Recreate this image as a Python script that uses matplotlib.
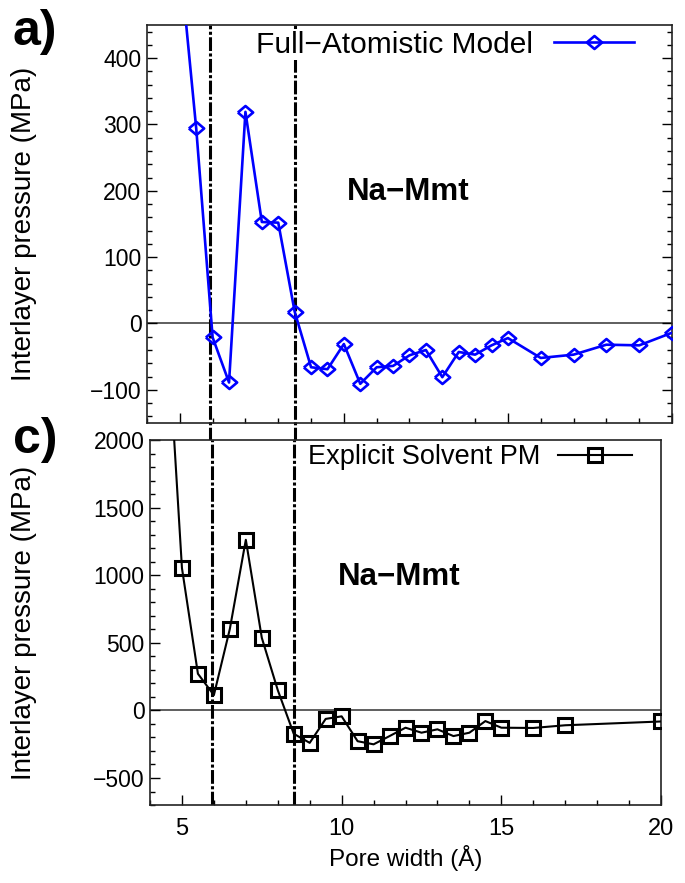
import matplotlib
matplotlib.use('Agg')
import matplotlib.pyplot as plt
from matplotlib.ticker import MultipleLocator

plt.rcParams['font.family'] = ['Liberation Sans', 'DejaVu Sans']

# values
width_fa = [5.0, 5.5, 6.0, 6.5, 7.0, 7.5, 8.0, 8.5, 9.0, 9.5, 10.0, 10.5, 11.0,
            11.5, 12.0, 12.5, 13.0, 13.5, 14.0, 14.5, 15.0, 16.0, 17.0, 18.0, 19.0, 20.0]
press_fa = [550, 294, -21, -89, 319, 153, 152, 18, -66, -69, -31, -91, -66,
            -64, -48, -40, -81, -43, -47, -33, -22, -52, -47, -32, -33, -14]

width_es = [4.5, 5.0, 5.5, 6.0, 6.5, 7.0, 7.5, 8.0, 8.5, 9.0, 9.5, 10.0, 10.5,
            11.0, 11.5, 12.0, 12.5, 13.0, 13.5, 14.0, 14.5, 15.0, 16.0, 17.0, 20.0]
press_es = [3000, 1053, 271, 113, 603, 1262, 537, 150, -173, -240, -63, -44, -228,
            -251, -190, -128, -165, -140, -190, -165, -79, -128, -130, -110, -82]

vlines = [5.93, 8.52]
label_fa = 'Full\u2212Atomistic Model'
label_es = 'Explicit Solvent PM'
label_clay = 'Na\u2212Mmt'

diamond = [(-1, 0), (0, 0.85), (1, 0), (0, -0.85), (-1, 0)]
dashdot = (0, (4.5, 0.8, 1.0, 0.8))

fig = plt.figure(figsize=(6.85, 8.83), dpi=100)
ax1 = fig.add_axes([0.2146, 0.5210, 0.7664, 0.4507])
ax2 = fig.add_axes([0.2190, 0.0883, 0.7460, 0.4134])

# top panel
ax1.axhline(0, color='#333333', lw=1.1, zorder=1)
for v in vlines:
    ax1.axvline(v, ymin=-0.045, ymax=1, color='black', lw=2.2, ls=dashdot,
                clip_on=False, zorder=2)
ax1.plot(width_fa, press_fa, color='#0000ff', lw=1.9, marker=diamond, ms=11,
         mfc='none', mec='#0000ff', mew=1.9, label=label_fa, zorder=3)
ax1.set_xlim(4, 20)
ax1.set_ylim(-150, 450)
ax1.yaxis.set_major_locator(MultipleLocator(100))
ax1.yaxis.set_minor_locator(MultipleLocator(20))
ax1.xaxis.set_major_locator(MultipleLocator(5))
ax1.xaxis.set_minor_locator(MultipleLocator(1))
ax1.tick_params(which='both', direction='in', left=True, right=True, top=False,
                bottom=True, labelbottom=False, width=1.0)
ax1.tick_params(axis='y', labelsize=16.5, pad=4)
ax1.tick_params(which='major', length=7)
ax1.tick_params(which='minor', length=3.5)
ax1.set_ylabel('Interlayer pressure (MPa)', fontsize=20, va='center')
ax1.yaxis.set_label_coords(-0.234, 0.5)
ax1.text(11.95, 198, label_clay, fontsize=22.5, fontweight='bold', ha='center', va='center')
ax1.legend(loc='center right', bbox_to_anchor=(0.931, 0.950), handlelength=2.7,
           handletextpad=0.7, markerfirst=False, frameon=True, fancybox=False,
           framealpha=1, edgecolor='none', borderpad=0.05, borderaxespad=0,
           prop={'size': 21.5})

# bottom panel
ax2.axhline(0, color='#333333', lw=1.1, zorder=1)
for v in vlines:
    ax2.axvline(v, color='black', lw=2.2, ls=dashdot, zorder=2)
ax2.plot(width_es, press_es, color='black', lw=1.5, marker='s', ms=10.5,
         mfc='none', mec='black', mew=2.2, label=label_es, zorder=3)
ax2.set_xlim(4, 20)
ax2.set_ylim(-700, 2000)
ax2.yaxis.set_major_locator(MultipleLocator(500))
ax2.yaxis.set_minor_locator(MultipleLocator(100))
ax2.xaxis.set_major_locator(MultipleLocator(5))
ax2.xaxis.set_minor_locator(MultipleLocator(1))
ax2.tick_params(which='both', direction='in', left=True, right=False, top=False,
                bottom=True, width=1.0)
ax2.tick_params(axis='y', labelsize=16.5, pad=4)
ax2.tick_params(axis='x', labelsize=17, pad=9)
ax2.tick_params(which='major', length=7)
ax2.tick_params(which='minor', length=3.5)
ax2.set_ylabel('Interlayer pressure (MPa)', fontsize=20, va='center')
ax2.yaxis.set_label_coords(-0.247, 0.5)
ax2.set_xlabel('Pore width (\u00c5)', fontsize=17.5)
ax2.text(11.8, 989, label_clay, fontsize=22.5, fontweight='bold', ha='center', va='center')
ax2.legend(loc='center right', bbox_to_anchor=(0.945, 0.953), handlelength=2.7,
           handletextpad=0.66, markerfirst=False, frameon=True, fancybox=False,
           framealpha=1, edgecolor='none', borderpad=0.05, borderaxespad=0,
           prop={'size': 19.5})

for ax in (ax1, ax2):
    for s in ax.spines.values():
        s.set_linewidth(1.2)
        s.set_color('#222222')

fig.text(35 / 685, 1 - 32 / 883, 'a)', fontsize=36, fontweight='bold', ha='center', va='center')
fig.text(35 / 685, 1 - 440 / 883, 'c)', fontsize=36, fontweight='bold', ha='center', va='center')

fig.savefig('out.png', dpi=100)
